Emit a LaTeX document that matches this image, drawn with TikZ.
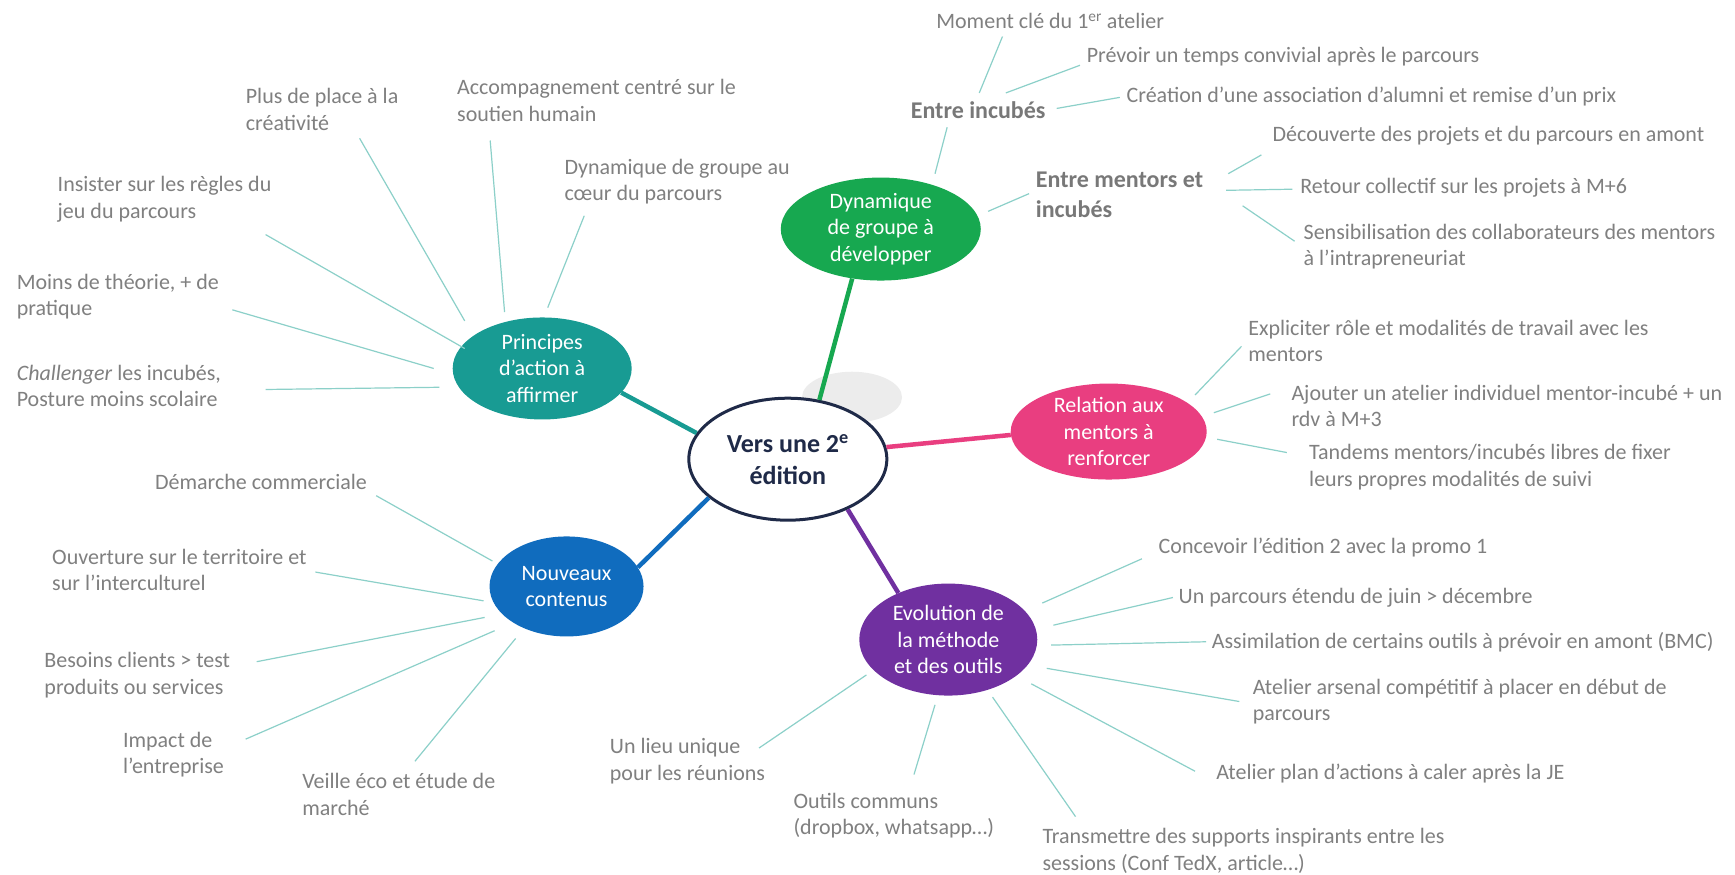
\documentclass[tikz,border=0pt]{standalone}
\usepackage{fontspec}
\setmainfont{Carlito}
\usetikzlibrary{shapes.geometric}
\definecolor{cteal}{RGB}{24,155,147}
\definecolor{cgreen}{RGB}{23,168,80}
\definecolor{cpink}{RGB}{233,62,128}
\definecolor{cblue}{RGB}{16,108,190}
\definecolor{cpurple}{RGB}{112,48,160}
\definecolor{cnavy}{RGB}{31,42,72}
\definecolor{twigcol}{RGB}{140,208,201}
\definecolor{leafgray}{RGB}{128,128,128}
\definecolor{subgray}{RGB}{120,120,120}
\definecolor{shadowgray}{RGB}{236,236,236}
\begin{document}
\begin{tikzpicture}[x=1.1065pt,y=-1.1065pt,
  hub/.style={ellipse, inner xsep=0pt, inner ysep=-6pt, text=white, align=center,
    font=\fontsize{22}{26.5}\selectfont},
  leaf/.style={anchor=west, align=left, inner sep=0pt, text=leafgray,
    font=\fontsize{22}{26.5}\selectfont},
  sub/.style={anchor=west, align=left, inner sep=0pt, text=subgray,
    font=\bfseries\fontsize{24}{30}\selectfont},
  twig/.style={draw=twigcol, line width=1.2pt},
  branch/.style={line width=4.5pt}]
\useasboundingbox (0,0) rectangle (1568,790);
\fill[white] (0,0) rectangle (1568,790);

% shadow blob
\node[ellipse, fill=shadowgray, minimum width=100pt, minimum height=51pt, inner sep=0pt] (shadow) at (770,359) {};

% hubs
\node[ellipse, draw=cnavy, line width=3pt, fill=white, minimum width=198pt, minimum height=122pt,
  inner sep=0pt, text=cnavy, font=\bfseries\fontsize{26}{32}\selectfont, align=center]
  (c) at (712,415) {Vers une 2\textsuperscript{e}\\édition};
\node[hub, fill=cteal, minimum width=179pt, minimum height=102pt] (pr) at (490,333) {Principes\\d’action à\\affirmer};
\node[hub, fill=cgreen, minimum width=200pt, minimum height=103pt] (dy) at (796,207) {Dynamique\\de groupe à\\développer};
\node[hub, fill=cpink, minimum width=196pt, minimum height=96pt] (re) at (1002,390) {Relation aux\\mentors à\\renforcer};
\node[hub, fill=cblue, minimum width=154pt, minimum height=100pt] (no) at (512,530) {Nouveaux\\contenus};
\node[hub, fill=cpurple, minimum width=178pt, minimum height=112pt] (ev) at (857,578) {Evolution de\\la méthode\\et des outils};

% branches
\draw[branch, cteal] (c.164) -- (pr.343);
\draw[branch, cgreen] (c.62) -- (dy.240);
\draw[branch, cpink] (c.7) -- (re.182);
\draw[branch, cblue] (c.206) -- (no.15);
\draw[branch, cpurple] (c.320) -- (ev.137);

% Principes leaves
\node[leaf] (p1) at (222,99) {Plus de place à la\\créativité};
\node[leaf] (p2) at (413,91) {Accompagnement centré sur le\\soutien humain};
\node[leaf] (p3) at (510,164) {Dynamique de groupe au\\cœur du parcours};
\node[leaf] (p4) at (52,180) {Insister sur les règles du\\jeu du parcours};
\node[leaf] (p5) at (15,268) {Moins de théorie, + de\\pratique};
\node[leaf] (p6) at (15,349) {\textit{Challenger} les incubés,\\Posture moins scolaire};
\coordinate (p1a) at (325,125); \coordinate (p1b) at (420,290);
\coordinate (p2a) at (443,127); \coordinate (p2b) at (456,282);
\coordinate (p3a) at (528,195); \coordinate (p3b) at (495,278);
\coordinate (p4a) at (240,212); \coordinate (p4b) at (420,315);
\coordinate (p5a) at (210,280); \coordinate (p5b) at (392,333);
\coordinate (p6a) at (240,352); \coordinate (p6b) at (397,350);
\foreach \i in {1,...,6} {\draw[twig] (p\i a) -- (p\i b);}

% Dynamique leaves
\node[sub, anchor=center] (d1) at (884,100) {Entre incubés};
\node[sub] (d2) at (936,176) {Entre mentors et\\incubés};
\node[leaf] (d11) at (846,19) {Moment clé du 1\textsuperscript{er} atelier};
\node[leaf] (d12) at (982,51) {Prévoir un temps convivial après le parcours};
\node[leaf] (d13) at (1018,87) {Création d’une association d’alumni et remise d’un prix};
\node[leaf] (d21) at (1150,123) {Découverte des projets et du parcours en amont};
\node[leaf] (d22) at (1175,170) {Retour collectif sur les projets à M+6};
\node[leaf] (d23) at (1178,223) {Sensibilisation des collaborateurs des mentors\\à l’intrapreneuriat};
\coordinate (da1) at (845,157); \coordinate (db1) at (856,115);
\coordinate (da2) at (893,191); \coordinate (db2) at (930,175);
\coordinate (da3) at (885,84);  \coordinate (db3) at (906,33);
\coordinate (da4) at (909,84);  \coordinate (db4) at (976,59);
\coordinate (da5) at (955,98);  \coordinate (db5) at (1012,88);
\coordinate (da6) at (1110,157); \coordinate (db6) at (1140,140);
\coordinate (da7) at (1108,172); \coordinate (db7) at (1168,171);
\coordinate (da8) at (1123,186); \coordinate (db8) at (1170,218);
\foreach \i in {1,...,8} {\draw[twig] (da\i) -- (db\i);}

% Relation leaves
\node[leaf] (r1) at (1128,308) {Expliciter rôle et modalités de travail avec les\\mentors};
\node[leaf] (r2) at (1167,367) {Ajouter un atelier individuel mentor-incubé + un\\rdv à M+3};
\node[leaf] (r3) at (1183,422) {Tandems mentors/incubés libres de fixer\\leurs propres modalités de suivi};
\coordinate (ra1) at (1080,357); \coordinate (rb1) at (1122,313);
\coordinate (ra2) at (1097,373); \coordinate (rb2) at (1148,356);
\coordinate (ra3) at (1100,397); \coordinate (rb3) at (1163,409);
\foreach \i in {1,...,3} {\draw[twig] (ra\i) -- (rb\i);}

% Nouveaux leaves
\node[leaf] (n1) at (140,436) {Démarche commerciale};
\node[leaf] (n2) at (47,515) {Ouverture sur le territoire et\\sur l’interculturel};
\node[leaf] (n3) at (40,610) {Besoins clients > test\\produits ou services};
\node[leaf] (n4) at (111,682) {Impact de\\l’entreprise};
\node[leaf] (n5) at (273,718) {Veille éco et étude de\\marché};
\coordinate (na1) at (340,448); \coordinate (nb1) at (445,507);
\coordinate (na2) at (285,517); \coordinate (nb2) at (437,543);
\coordinate (na3) at (232,598); \coordinate (nb3) at (438,558);
\coordinate (na4) at (222,668); \coordinate (nb4) at (447,570);
\coordinate (na5) at (375,688); \coordinate (nb5) at (466,577);
\foreach \i in {1,...,5} {\draw[twig] (na\i) -- (nb\i);}

% Evolution leaves
\node[leaf] (e1) at (1047,495) {Concevoir l’édition 2 avec la promo 1};
\node[leaf] (e2) at (1065,540) {Un parcours étendu de juin > décembre};
\node[leaf] (e3) at (1095,580) {Assimilation de certains outils à prévoir en amont (BMC)};
\node[leaf] (e4) at (1132,634) {Atelier arsenal compétitif à placer en début de\\parcours};
\node[leaf] (e5) at (1099,699) {Atelier plan d’actions à caler après la JE};
\node[leaf] (e6) at (942,769) {Transmettre des supports inspirants entre les\\sessions (Conf TedX, article…)};
\node[leaf] (e7) at (717,737) {Outils communs\\(dropbox, whatsapp…)};
\node[leaf] (e8) at (551,688) {Un lieu unique\\pour les réunions};
\coordinate (ea1) at (942,545); \coordinate (eb1) at (1032,505);
\coordinate (ea2) at (952,565); \coordinate (eb2) at (1060,540);
\coordinate (ea3) at (950,583); \coordinate (eb3) at (1090,580);
\coordinate (ea4) at (946,604); \coordinate (eb4) at (1120,634);
\coordinate (ea5) at (932,618); \coordinate (eb5) at (1080,697);
\coordinate (ea6) at (897,630); \coordinate (eb6) at (972,738);
\coordinate (ea7) at (845,637); \coordinate (eb7) at (826,700);
\coordinate (ea8) at (783,610); \coordinate (eb8) at (686,676);
\foreach \i in {1,...,8} {\draw[twig] (ea\i) -- (eb\i);}
\end{tikzpicture}
\end{document}
